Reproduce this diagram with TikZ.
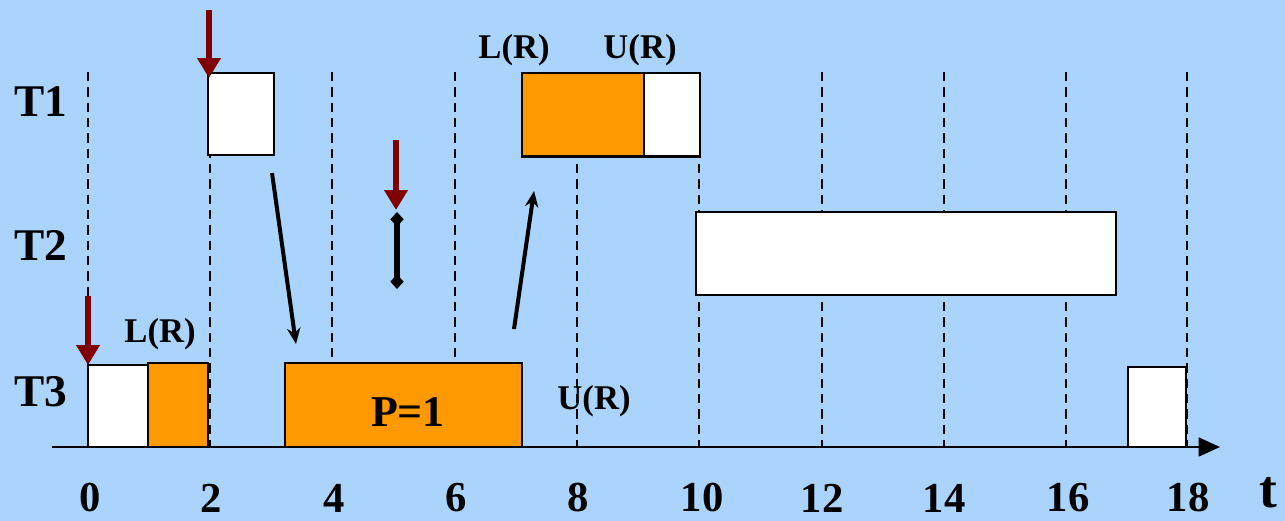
\documentclass[tikz,border=0pt]{standalone}
\usepackage{fontspec}
\setmainfont{Liberation Serif}
\usetikzlibrary{arrows.meta}
\definecolor{bgblue}{HTML}{AAD4FB}
\definecolor{orng}{HTML}{FF9900}
\definecolor{darkred}{HTML}{800000}
\tikzset{
  px/.style={x=0.75pt,y=-0.75pt},
  grid/.style={line width=1.5pt,dash pattern=on 7pt off 4.5pt},
  box/.style={draw=black,line width=2pt,inner sep=0pt,outer sep=0pt,anchor=north west},
  lbl/.style={font=\fontsize{34}{34}\bfseries\selectfont,inner sep=0pt},
  num/.style={font=\fontsize{32}{32}\bfseries\selectfont,inner sep=0pt},
  rl/.style={font=\fontsize{26}{26}\bfseries\selectfont,inner sep=0pt},
  release/.style={darkred,line width=5pt,-{Triangle[width=17pt,length=15pt]}},
  move/.style={line width=3pt,-{Stealth[width=10pt,length=12pt]}},
  blockd/.style={line width=4.5pt,{Diamond[width=10pt,length=11pt]}-{Diamond[width=10pt,length=11pt]}},
}
\begin{document}
\begin{tikzpicture}[px]
\useasboundingbox[fill=bgblue] (0,0) rectangle (1285,521);
% grid lines
\foreach \i/\xx in {0/88,1/210,2/332,3/455,4/577,5/699,6/822,7/944,8/1066,9/1187}{
  \draw[grid] (\xx,72) -- (\xx,447);
}
% axis
\coordinate (ax0) at (52,447);
\coordinate (ax1) at (1220,447);
\draw[line width=2pt,-{Triangle[width=14pt,length=16pt]}] (ax0) -- (ax1);
% tick labels
\foreach \t/\xx in {0/90,2/211,4/334,6/456,8/578,10/702,12/822,14/944,16/1068,18/1188}{
  \node[num] (n\t) at (\xx,498) {\t};
}
\node[font=\fontsize{40}{40}\bfseries\selectfont,inner sep=0pt] (tl) at (1268,493) {t};
% task labels
\node[lbl] (T1) at (41,102) {T1};
\node[lbl] (T2) at (41,245) {T2};
\node[lbl] (T3) at (41,392) {T3};
% T1 boxes
\node[box,fill=white,minimum width=49.5pt,minimum height=61.5pt] (t1a) at (208,73) {};
\node[box,fill=orng,minimum width=91.5pt,minimum height=62.5pt] (t1b) at (522,73) {};
\node[box,fill=white,minimum width=42pt,minimum height=62.5pt] (t1c) at (644,73) {};
% T2 box
\node[box,fill=white,minimum width=315pt,minimum height=62.25pt] (t2a) at (696,212) {};
% T3 boxes
\node[box,fill=white,minimum width=45pt,minimum height=61.5pt] (t3a) at (88,365) {};
\node[box,fill=orng,minimum width=45pt,minimum height=63pt] (t3b) at (148,363) {};
\node[box,fill=orng,minimum width=177.75pt,minimum height=63pt] (t3c) at (285,363) {};
\node[box,fill=white,minimum width=43.5pt,minimum height=60pt] (t3d) at (1128,367) {};
\node[lbl,font=\fontsize{33}{33}\bfseries\selectfont] (p1) at (408,412) {P=1};
% resource labels
\node[rl] (lr3) at (160,334) {L(R)};
\node[rl] (lr1) at (514,50) {L(R)};
\node[rl] (ur1) at (640,50) {U(R)};
\node[rl] (ur3) at (594,401) {U(R)};
% release arrows
\coordinate (r3s) at (88,296);
\coordinate (r1s) at (209,10);
\coordinate (r2s) at (396,140);
\draw[release] (r3s) -- (t3a.north west);
\coordinate (r1e) at (209,78);
\draw[release] (r1s) -- (r1e);
\coordinate (r2e) at (396,210);
\draw[release] (r2s) -- (r2e);
% blocking
\coordinate (b1) at (397,212);
\coordinate (b2) at (397,289);
\draw[blockd] (b1) -- (b2);
% preemption arrows
\coordinate (m1s) at (272,173);
\coordinate (m1e) at (296,344);
\draw[move] (m1s) -- (m1e);
\coordinate (m2s) at (514,329);
\coordinate (m2e) at (534,191);
\draw[move] (m2s) -- (m2e);
\end{tikzpicture}
\end{document}
